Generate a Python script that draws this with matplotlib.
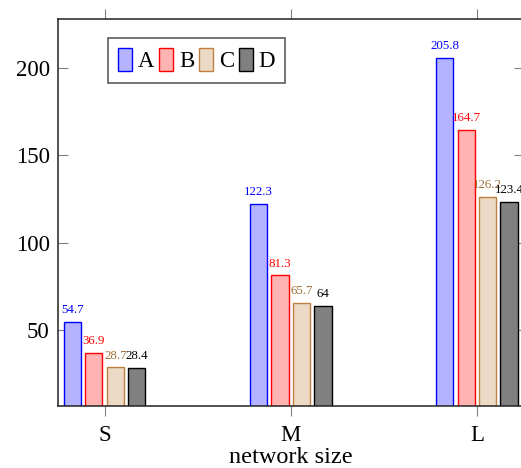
import matplotlib
matplotlib.use("Agg")
import matplotlib.pyplot as plt
import numpy as np

categories = ["S", "M", "L"]
series_names = ["A", "B", "C", "D"]
values_A = [54.7, 122.3, 205.8]
values_B = [36.9, 81.3, 164.7]
values_C = [28.7, 65.7, 126.2]
values_D = [28.4, 64, 123.4]
label_A = ["54.7", "122.3", "205.8"]
label_B = ["36.9", "81.3", "164.7"]
label_C = ["28.7", "65.7", "126.2"]
label_D = ["28.4", "64", "123.4"]

fills = ["#b3b3ff", "#ffb3b3", "#ecd9c6", "#808080"]
edges = ["#0000ff", "#ff0000", "#bf8040", "#000000"]
txtcol = ["#0000ff", "#ff0000", "#a0703a", "#000000"]

plt.rcParams['font.family'] = ['Liberation Serif', 'DejaVu Serif']

fig = plt.figure(figsize=(5.21, 4.68), dpi=100)
ax = fig.add_axes([58/521, 1-406/468, (523.5-58)/521, (406-19)/468])

x = np.arange(len(categories))
width = 0.093
step = 0.1153
offsets = [-1.5*step, -0.5*step, 0.5*step, 1.5*step]
series = [values_A, values_B, values_C, values_D]
labels = [label_A, label_B, label_C, label_D]

for i, (vals, labs) in enumerate(zip(series, labels)):
    ax.bar(x + offsets[i], vals, width, bottom=0, color=fills[i],
           edgecolor=edges[i], linewidth=1.0, label=series_names[i], zorder=2)
    for xi, v, l in zip(x + offsets[i], vals, labs):
        ax.annotate(l, (xi, v), xytext=(0, 4), textcoords='offset points',
                    ha='center', va='bottom', fontsize=9.3, color=txtcol[i],
                    annotation_clip=False, clip_on=False)

ax.set_xlim(-0.25, 2.25)
ax.set_ylim(6.5, 228)
ax.set_xticks(x)
ax.set_xticklabels(categories)
ax.set_yticks([50, 100, 150, 200])
ax.tick_params(axis='x', direction='out', top=True, bottom=True, length=7.2,
               color='#808080', labelsize=16.5, pad=6.5)
ax.tick_params(axis='y', direction='in', left=True, right=True, length=7.2,
               color='#808080', labelsize=16.5, pad=6)
for s in ax.spines.values():
    s.set_color('#222222')
    s.set_linewidth(1.1)
ax.set_xlabel("network size", fontsize=17.5, labelpad=1)

leg = ax.legend(ncol=4, loc='upper left', bbox_to_anchor=(0.107, 0.951),
                fontsize=16.5, frameon=True, fancybox=False, edgecolor='#222222',
                handlelength=0.62, handleheight=1.14, handletextpad=0.25,
                columnspacing=0.2, borderpad=0.45, borderaxespad=0)
leg.get_frame().set_linewidth(1.1)

fig.savefig("out.png", dpi=100)
